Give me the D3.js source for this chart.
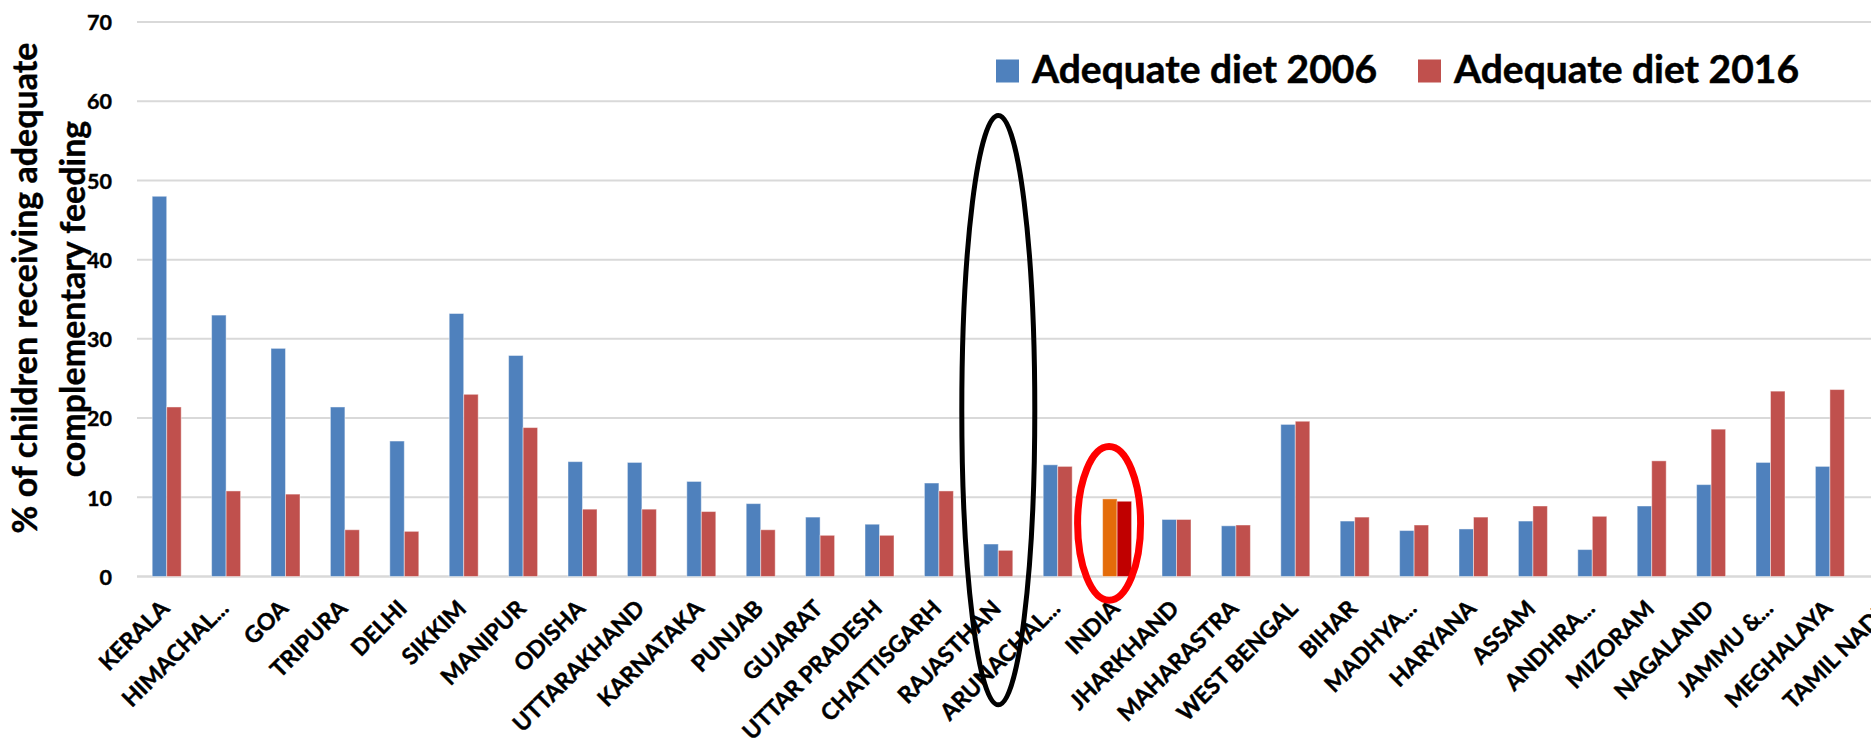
<!DOCTYPE html>
<html>
<head>
<meta charset="utf-8">
<script src="https://cdn.jsdelivr.net/npm/d3@7"></script>
<style>
  html, body { margin: 0; padding: 0; background: #ffffff; overflow: hidden; }
  svg { display: block; font-family: Lato, "Open Sans", sans-serif; font-weight: bold; }
</style>
</head>
<body>
<svg id="chart" width="1871" height="740"></svg>
<script>
// States ordered as in the survey comparison; INDIA is the national average
const categories = [
  "KERALA", "HIMACHAL...", "GOA", "TRIPURA", "DELHI", "SIKKIM", "MANIPUR",
  "ODISHA", "UTTARAKHAND", "KARNATAKA", "PUNJAB", "GUJARAT", "UTTAR PRADESH",
  "CHATTISGARH", "RAJASTHAN", "ARUNACHAL...", "INDIA", "JHARKHAND",
  "MAHARASTRA", "WEST BENGAL", "BIHAR", "MADHYA...", "HARYANA", "ASSAM",
  "ANDHRA...", "MIZORAM", "NAGALAND", "JAMMU &...", "MEGHALAYA", "TAMIL NADU"
];

// % of children 6-23 months receiving an adequate diet
const diet2006 = [
  48.0, 33.0, 28.8, 21.4, 17.1, 33.2, 27.9,
  14.5, 14.4, 12.0, 9.2, 7.5, 6.6,
  11.8, 4.1, 14.1, 9.8, 7.2,
  6.4, 19.2, 7.0, 5.8, 6.0, 7.0,
  3.4, 8.9, 11.6, 14.4, 13.9, 12.0
];
const diet2016 = [
  21.4, 10.8, 10.4, 5.9, 5.7, 23.0, 18.8,
  8.5, 8.5, 8.2, 5.9, 5.2, 5.2,
  10.8, 3.3, 13.9, 9.5, 7.2,
  6.5, 19.6, 7.5, 6.5, 7.5, 8.9,
  7.6, 14.6, 18.6, 23.4, 23.6, 30.7
];

const seriesNames = ["Adequate diet 2006", "Adequate diet 2016"];
const seriesKeys = ["y2006", "y2016"];
const yTicks = [0, 10, 20, 30, 40, 50, 60, 70];

const colors = { y2006: "#4F81BD", y2016: "#C0504D" };
const highlightColors = { y2006: "#E46C0A", y2016: "#C00000" };
const highlightCategory = "INDIA";

const rows = categories.map((c, i) => ({ name: c, y2006: diet2006[i], y2016: diet2016[i] }));

const svg = d3.select("#chart");

// Plot area (the category axis runs past the right edge of the page)
const plotLeft = 137, step = 59.4;
const plotRight = plotLeft + step * categories.length;
const y0px = 576.5, yTop = 22;

const x = d3.scaleBand().domain(categories).range([plotLeft, plotRight]).padding(0);
const pairWidth = 29;
const x1 = d3.scaleBand().domain(seriesKeys)
  .range([(x.bandwidth() - pairWidth) / 2, (x.bandwidth() + pairWidth) / 2]).padding(0);
const y = d3.scaleLinear().domain([0, 70]).range([y0px, yTop]);

// Horizontal gridlines
svg.append("g").selectAll("line").data(yTicks).join("line")
  .attr("x1", plotLeft).attr("x2", plotRight)
  .attr("y1", d => y(d)).attr("y2", d => y(d))
  .attr("stroke", "#D9D9D9")
  .attr("stroke-width", d => d === 0 ? 2.5 : 2);

// Value axis labels
const yAxis = d3.axisLeft(y).tickValues(yTicks).tickSize(0).tickPadding(0);
const yAxisG = svg.append("g").attr("transform", "translate(112,0)").call(yAxis);
yAxisG.select(".domain").remove();
yAxisG.selectAll("text")
  .attr("font-family", "Lato, sans-serif").attr("font-weight", "bold")
  .attr("font-size", 21.5).attr("fill", "#000")
  .attr("stroke", "#000").attr("stroke-width", 0.4)
  .attr("dy", "0.36em");

// Bars
const groups = svg.append("g").selectAll("g").data(rows).join("g")
  .attr("transform", d => `translate(${x(d.name)},0)`);
groups.selectAll("rect")
  .data(d => seriesKeys.map(k => ({ key: k, value: d[k], cat: d.name })))
  .join("rect")
  .attr("x", d => x1(d.key))
  .attr("width", x1.bandwidth())
  .attr("y", d => y(d.value))
  .attr("height", d => y(0) - y(d.value))
  .attr("fill", d => d.cat === highlightCategory ? highlightColors[d.key] : colors[d.key])
  .attr("stroke", "rgba(255,255,255,0.45)")
  .attr("stroke-width", 1);

// Category labels, rotated
svg.append("g").selectAll("text").data(categories).join("text")
  .attr("transform", d => `translate(${x(d) + x.bandwidth() / 2 + 4},610) rotate(-45)`)
  .attr("text-anchor", "end")
  .attr("font-size", 23)
  .attr("fill", "#000")
  .attr("stroke", "#000").attr("stroke-width", 0.45)
  .text(d => d);

// Value axis title (two lines)
svg.append("text")
  .attr("transform", "translate(37,288) rotate(-90)")
  .attr("text-anchor", "middle").attr("font-size", 34).attr("fill", "#000")
  .attr("stroke", "#000").attr("stroke-width", 0.4)
  .text("% of children receiving adequate");
svg.append("text")
  .attr("transform", "translate(84.5,299) rotate(-90)")
  .attr("text-anchor", "middle").attr("font-size", 34).attr("fill", "#000")
  .attr("stroke", "#000").attr("stroke-width", 0.4)
  .text("complementary feeding");

// Legend
const legendX = [996, 1418];
const legend = svg.append("g").selectAll("g").data(seriesKeys).join("g")
  .attr("transform", (d, i) => `translate(${legendX[i]},0)`);
legend.append("rect")
  .attr("x", 0).attr("y", 59.5).attr("width", 23).attr("height", 23)
  .attr("fill", d => colors[d]);
legend.append("text")
  .attr("x", 36).attr("y", 83)
  .attr("font-size", 39).attr("fill", "#000")
  .attr("stroke", "#000").attr("stroke-width", 0.5)
  .text((d, i) => seriesNames[i]);

// Highlight rings: Rajasthan (black) and the national average (red)
const catCenter = c => x(c) + x.bandwidth() / 2;
svg.append("ellipse")
  .attr("cx", catCenter("RAJASTHAN"))
  .attr("cy", (y(58.2) + y(-16.2)) / 2)
  .attr("rx", 36.5)
  .attr("ry", (y(-16.2) - y(58.2)) / 2)
  .attr("fill", "none").attr("stroke", "#000").attr("stroke-width", 5);
svg.append("ellipse")
  .attr("cx", catCenter("INDIA") - 8)
  .attr("cy", (y(16.4) + y(-3.0)) / 2)
  .attr("rx", 31.5)
  .attr("ry", (y(-3.0) - y(16.4)) / 2)
  .attr("fill", "none").attr("stroke", "#FF0000").attr("stroke-width", 7);
</script>
</body>
</html>
